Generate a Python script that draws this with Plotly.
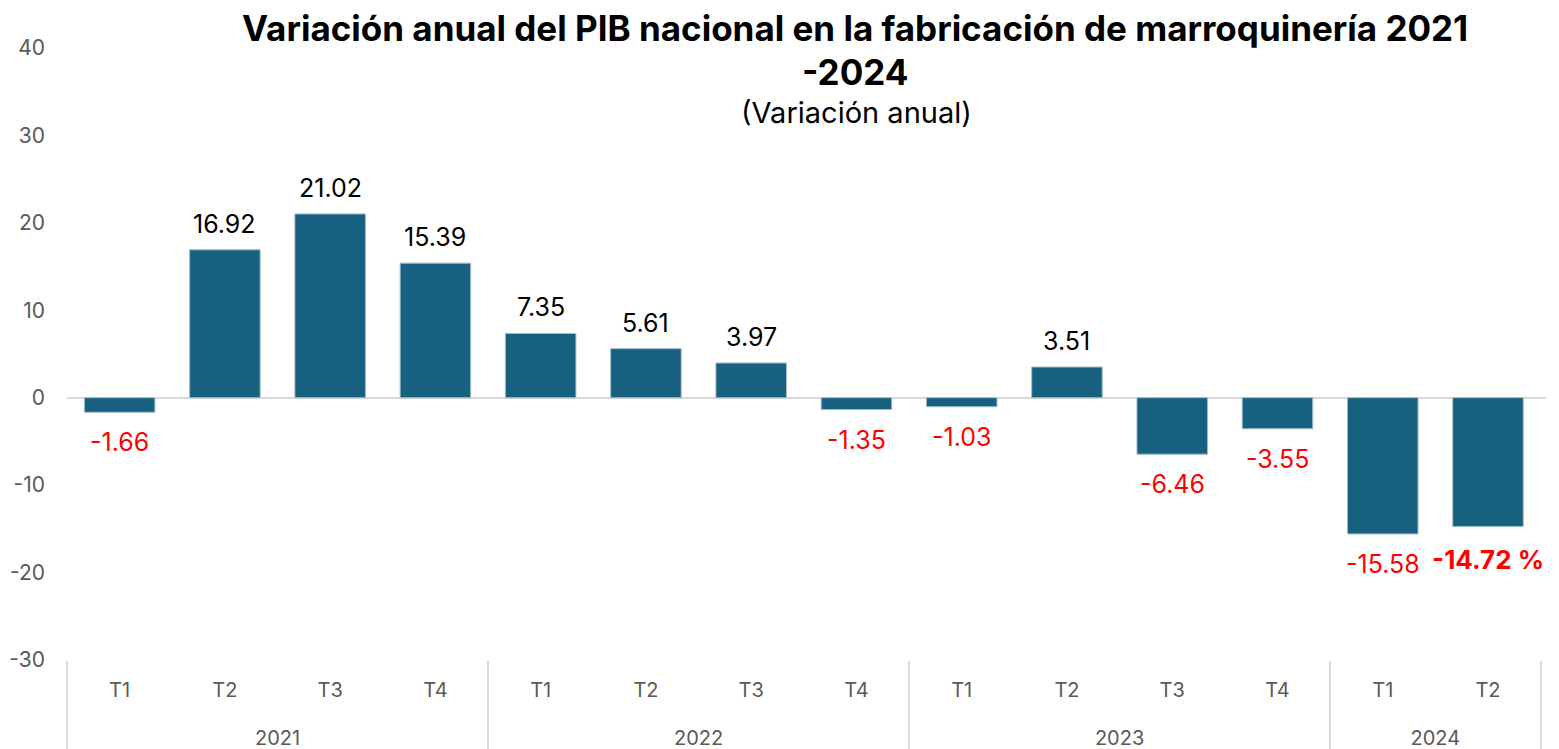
import plotly.graph_objects as go

years = ["2021"] * 4 + ["2022"] * 4 + ["2023"] * 4 + ["2024"] * 2
quarters = ["T1", "T2", "T3", "T4", "T1", "T2", "T3", "T4", "T1", "T2", "T3", "T4", "T1", "T2"]
values = [-1.66, 16.92, 21.02, 15.39, 7.35, 5.61, 3.97, -1.35, -1.03, 3.51, -6.46, -3.55, -15.58, -14.72]
labels = ["-1.66", "16.92", "21.02", "15.39", "7.35", "5.61", "3.97", "-1.35", "-1.03", "3.51",
          "-6.46", "-3.55", "-15.58", "<b>-14.72 %</b>"]
y_ticks = [-30, -20, -10, 0, 10, 20, 30, 40]
y_ticktext = ["-30", "-20", "-10", "0", "10", "20", "30", "40"]

BAR = "#17607F"
FONT = "Inter, 'Open Sans', sans-serif"
SPAN = "<span style='font-size:20px'>{}</span>"

# outer (year) labels pushed down one (wider) line for spacing like the reference
year_labels = ["<br>" + SPAN.format(y) for y in years]
quarter_labels = [SPAN.format(q) for q in quarters]

fig = go.Figure()
fig.add_trace(go.Bar(
    x=[year_labels, quarter_labels], y=values,
    marker=dict(color=BAR, line=dict(color="#9fbccb", width=1)),
    width=0.67,
    hoverinfo="skip",
))

for i, (v, lab) in enumerate(zip(values, labels)):
    last = i == len(values) - 1
    fig.add_annotation(
        x=i, y=v, xref="x", yref="y",
        text=lab, showarrow=False,
        font=dict(family=FONT, size=26 if last else 25,
                  color="#000000" if v >= 0 else "#ff0000"),
        yanchor="middle",
        yshift=26 if v >= 0 else (-33 if last else -30),
    )

# page body has an 8px margin; compensate so the plot lands where the reference has it
fig.update_layout(
    width=1551, height=741,
    paper_bgcolor="white", plot_bgcolor="white",
    margin=dict(l=59, r=13, t=40, b=89),
    showlegend=False,
    font=dict(family=FONT, color="#595959", size=18),
)

PH = 612.0
def py(pix):  # pixel row in the reference -> paper y
    return 1 - (pix - 48) / PH

fig.add_annotation(
    xref="paper", yref="paper", x=0.533, y=py(28), xanchor="center", yanchor="middle",
    text="<b>Variación anual del PIB nacional en la fabricación de marroquinería 2021</b>",
    showarrow=False, font=dict(family=FONT, size=35, color="#000000"),
)
fig.add_annotation(
    xref="paper", yref="paper", x=0.533, y=py(72), xanchor="center", yanchor="middle",
    text="<b>-2024</b>",
    showarrow=False, font=dict(family=FONT, size=35, color="#000000"),
)
fig.add_annotation(
    xref="paper", yref="paper", x=0.534, y=py(113), xanchor="center", yanchor="middle",
    text="(Variación anual)", showarrow=False,
    font=dict(family=FONT, size=29, color="#000000"),
)

fig.update_yaxes(
    range=[-30, 40], tickvals=y_ticks, ticktext=y_ticktext, showgrid=False,
    zeroline=True, zerolinecolor="#d9d9d9", zerolinewidth=2,
    showline=False, ticks="", ticklabelstandoff=21, automargin=False,
    tickfont=dict(family=FONT, size=21, color="#595959"),
)
fig.update_xaxes(
    type="multicategory", showgrid=False, showline=False, ticks="",
    showdividers=True, dividercolor="#d9d9d9", dividerwidth=2,
    ticklabelstandoff=11, automargin=False,
    tickfont=dict(family=FONT, size=25, color="#595959"),
)

fig.write_html("out.html")
